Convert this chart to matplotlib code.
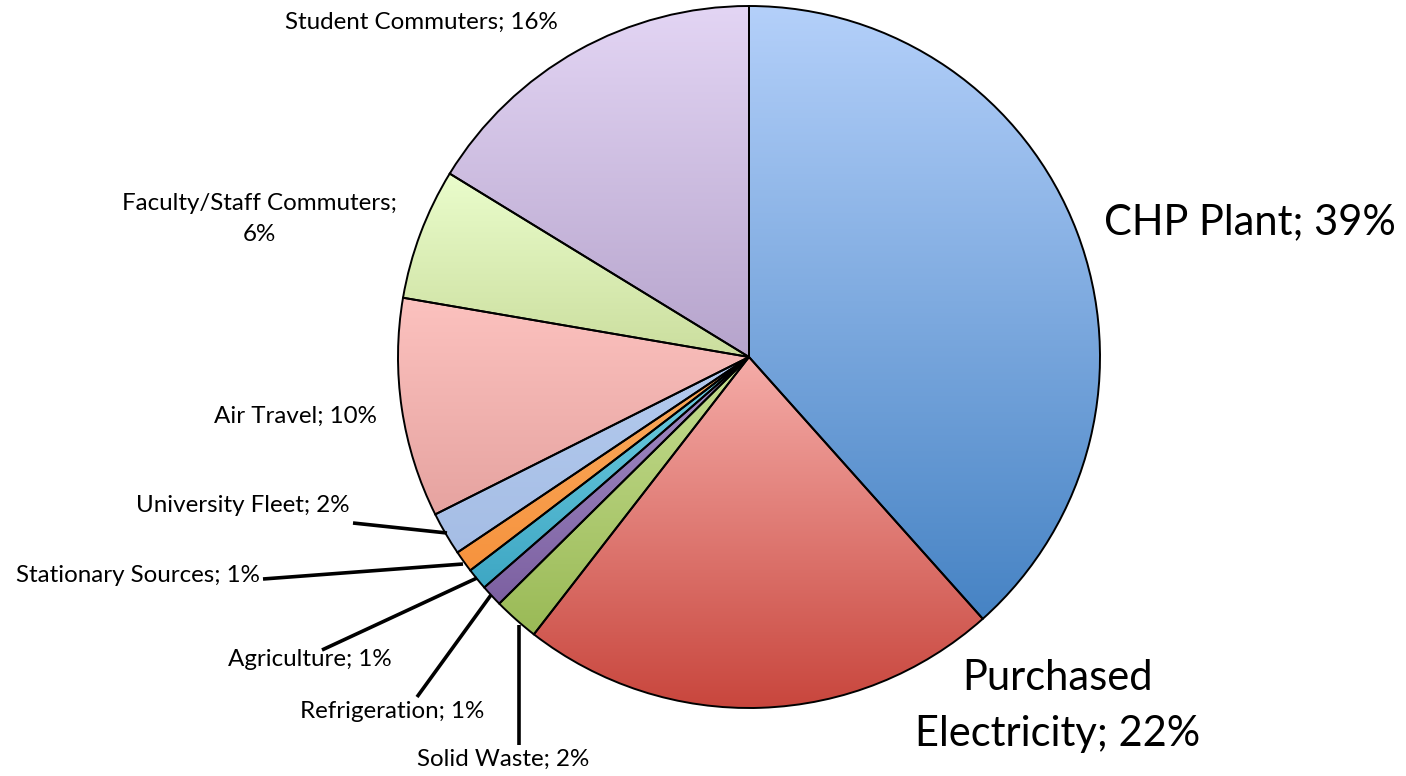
import numpy as np
import matplotlib
matplotlib.use("Agg")
import matplotlib.pyplot as plt
from matplotlib.colors import to_rgb

plt.rcParams['font.family'] = ['Lato', 'DejaVu Sans']

# ---- data ----
categories = ["CHP Plant", "Purchased Electricity", "Solid Waste", "Refrigeration",
              "Agriculture", "Stationary Sources", "University Fleet", "Air Travel",
              "Faculty/Staff Commuters", "Student Commuters"]
values = [38.4, 22.1, 2.1, 1.0, 1.0, 1.0, 2.0, 10.1, 6.05, 16.25]
pct_labels = [39, 22, 2, 1, 1, 1, 2, 10, 6, 16]

top_colors = ["#b4d0fa", "#f5aca8", "#c6de92", "#a590c8", "#72cfe2", "#fbac5f",
              "#b4cbee", "#fcc2bf", "#eafdcc", "#e3d5f4"]
bot_colors = ["#4683c4", "#c8453c", "#9aba56", "#7c60a1", "#3ea7c4", "#f6933e",
              "#a5bde5", "#e6a3a0", "#cbde9e", "#b6a4cc"]

W, H = 1406, 776
fig = plt.figure(figsize=(W / 100, H / 100), dpi=100)
ax = fig.add_axes([0, 0, 1, 1])

cx, cy, R = 749, H - 357, 351
wedges, _ = ax.pie(values, startangle=90, counterclock=False, center=(cx, cy),
                   radius=R, frame=True,
                   wedgeprops=dict(edgecolor="black", linewidth=1.4, facecolor="none"))

for w, ct, cb in zip(wedges, top_colors, bot_colors):
    w.set_zorder(3)
    v = w.get_path().vertices
    x0, x1 = v[:, 0].min(), v[:, 0].max()
    y0, y1 = v[:, 1].min(), v[:, 1].max()
    t = np.linspace(0, 1, 256)[:, None]
    c0, c1 = np.array(to_rgb(cb)), np.array(to_rgb(ct))
    grad = (c0[None, :] * (1 - t) + c1[None, :] * t)[:, None, :]
    im = ax.imshow(grad, extent=[x0, x1, y0, y1], origin="lower", aspect="auto",
                   zorder=2, interpolation="bilinear")
    im.set_clip_path(w)

ax.set_xlim(0, W)
ax.set_ylim(0, H)
ax.set_aspect("auto")
ax.axis("off")

def lab(i):
    return f"{categories[i]}; {pct_labels[i]}%"

big = 30
small = 17.4
ax.text(1250, H - 222, lab(0), fontsize=big, ha="center", va="center", zorder=5)
ax.text(1058, H - 706, "Purchased\nElectricity; 22%", fontsize=big, ha="center",
        va="center", linespacing=1.55, zorder=5)
ax.text(421, H - 22, lab(9), fontsize=small, ha="center", va="center", zorder=5)
ax.text(259, H - 219, "Faculty/Staff Commuters;\n6%", fontsize=small, ha="center",
        va="center", linespacing=1.6, zorder=5)
ax.text(295, H - 416, lab(7), fontsize=small, ha="center", va="center", zorder=5)
ax.text(243, H - 506, lab(6), fontsize=small, ha="center", va="center", zorder=5)
ax.text(138, H - 575, lab(5), fontsize=small, ha="center", va="center", zorder=5)
ax.text(310, H - 660, lab(4), fontsize=small, ha="center", va="center", zorder=5)
ax.text(392, H - 711, lab(3), fontsize=small, ha="center", va="center", zorder=5)
ax.text(503, H - 759, lab(2), fontsize=small, ha="center", va="center", zorder=5)

# leader lines (label end -> slice edge)
leaders = [((353, 523), (447, 533)),
           ((263, 579), (463, 564)),
           ((322, 650), (477, 578)),
           ((417, 697), (491, 595)),
           ((519, 745), (519, 625))]
for (xa, ya), (xb, yb) in leaders:
    ax.plot([xa, xb], [H - ya, H - yb], color="black", lw=2.6, zorder=4,
            solid_capstyle="butt")

fig.savefig("out.png", dpi=100, facecolor="white")
